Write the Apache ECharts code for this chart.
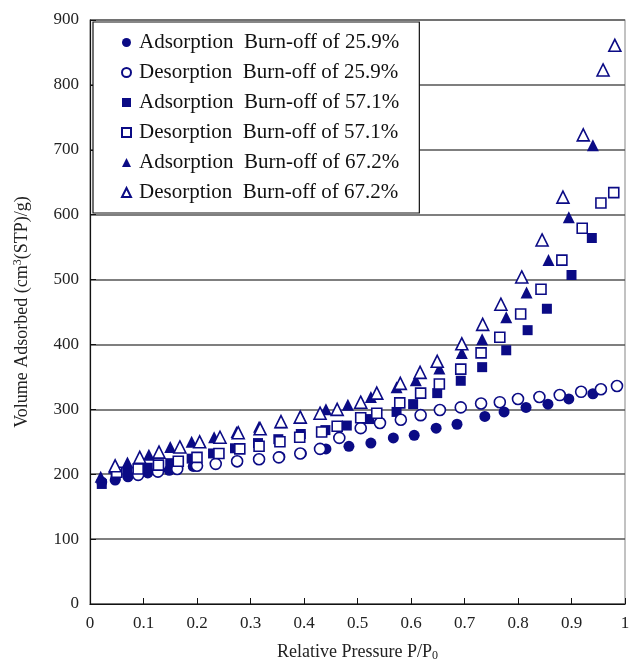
<!DOCTYPE html>
<html><head><meta charset="utf-8">
<script src="https://cdn.jsdelivr.net/npm/echarts@6/dist/echarts.min.js"></script>
<style>html,body{margin:0;padding:0;background:#fff}#c{width:631px;height:661px}</style>
</head><body><div id="c"></div>
<script>
// Adsorption / desorption, burn-off 25.9%
const ads259P = [0.022,0.047,0.071,0.108,0.148,0.193,0.235,0.275,0.316,0.355,0.395,0.441,0.484,0.525,0.567,0.606,0.647,0.686,0.738,0.774,0.815,0.856,0.895,0.94];
const ads259V = [188,191,196,202,206,212,216,219,223,227,232,239,243,248,256,260,271,277,289,296,303,308,316,324];
const des259P = [0.985,0.955,0.918,0.878,0.84,0.80,0.766,0.731,0.693,0.654,0.618,0.581,0.542,0.506,0.466,0.43,0.393,0.353,0.316,0.275,0.235,0.2,0.163,0.127,0.09];
const des259V = [336,331,327,322,319,316,311,309,303,299,291,284,279,271,256,239,232,226,223,220,216,213,208,204,199];
// burn-off 57.1%
const ads571P = [0.022,0.048,0.07,0.108,0.15,0.19,0.23,0.271,0.314,0.352,0.394,0.44,0.48,0.522,0.573,0.604,0.649,0.693,0.733,0.778,0.818,0.854,0.9,0.938];
const ads571V = [185,198,204,210,217,224,232,240,248,254,262,268,275,285,296,308,325,344,365,391,422,455,507,564];
const des571P = [0.979,0.955,0.92,0.882,0.843,0.805,0.766,0.731,0.693,0.653,0.618,0.579,0.536,0.506,0.462,0.433,0.392,0.355,0.316,0.28,0.241,0.2,0.165,0.128,0.09,0.05];
const des571V = [634,618,579,530,485,447,411,387,362,339,325,310,294,287,274,265,257,250,243,239,232,226,220,214,208,203];
// burn-off 67.2%
const ads672P = [0.02,0.045,0.07,0.11,0.15,0.19,0.232,0.274,0.316,0.356,0.394,0.441,0.482,0.525,0.573,0.609,0.653,0.695,0.733,0.778,0.816,0.857,0.895,0.94];
const ads672V = [196,210,218,230,242,250,257,265,273,280,288,300,307,319,334,345,363,387,408,442,480,530,596,707];
const des672P = [0.981,0.959,0.922,0.884,0.845,0.807,0.768,0.734,0.695,0.649,0.617,0.58,0.536,0.506,0.462,0.43,0.393,0.357,0.318,0.277,0.243,0.205,0.168,0.129,0.093,0.047];
const des672V = [861,823,723,627,561,504,462,431,401,374,357,340,325,311,300,294,288,281,270,264,257,250,242,234,226,213];

const seriesNames = [
  'Adsorption  Burn-off of 25.9%','Desorption  Burn-off of 25.9%',
  'Adsorption  Burn-off of 57.1%','Desorption  Burn-off of 57.1%',
  'Adsorption  Burn-off of 67.2%','Desorption  Burn-off of 67.2%'];
const xTicks = [0,0.1,0.2,0.3,0.4,0.5,0.6,0.7,0.8,0.9,1];
const yTicks = [0,100,200,300,400,500,600,700,800,900];

const NAVY = '#0b0b85';
const zip = (a,b) => a.map((v,i)=>[v,b[i]]);
const datasets = [
  zip(ads259P,ads259V), zip(des259P,des259V),
  zip(ads571P,ads571V), zip(des571P,des571V),
  zip(ads672P,ads672V), zip(des672P,des672V)];
const symbols = ['circle','circle','rect','rect','triangle','triangle'];
const sizes = [11,11,10,10,12,12];

const series = datasets.map((d,i)=>{
  const hollow = i%2===1;
  return {
    name: seriesNames[i], type:'scatter', data:d, symbol:symbols[i], symbolSize:sizes[i],
    z: hollow?3:2,
    itemStyle: hollow ? {color:'#ffffff', borderColor:NAVY, borderWidth:1.6, opacity:1}
                      : {color:NAVY, opacity:1}
  };
});

const chart = echarts.init(document.getElementById('c'), null, {renderer:'canvas'});
const FONT = '"Liberation Serif","Times New Roman",serif';
chart.setOption({
  animation:false,
  backgroundColor:'#fff',
  textStyle:{fontFamily:FONT},
  grid:{left:90,right:6,top:20,bottom:57,outerBoundsMode:'none',containLabel:false,show:true,borderColor:'#9a9a9a',borderWidth:1.2},
  legend:{
    orient:'vertical', left:93, top:22,
    backgroundColor:'#fff', borderColor:'#111', borderWidth:1.2,
    padding:[10,20,10,28], itemGap:9, itemWidth:9, itemHeight:9,
    textStyle:{fontFamily:FONT, fontSize:21, color:'#111', padding:[0,0,0,3]},
    data:seriesNames
  },
  xAxis:{
    type:'value', min:0, max:1, interval:0.1,
    axisLine:{show:true,lineStyle:{color:'#111',width:1.2}},
    axisTick:{show:true,inside:true,length:6,lineStyle:{color:'#111'}},
    splitLine:{show:false},
    axisLabel:{fontFamily:FONT,fontSize:17,color:'#222',margin:11,
      formatter:v=>{const t=xTicks.find(k=>Math.abs(k-v)<1e-6); return t===0?'0':(t===1?'1':(t!==undefined?t.toFixed(1):''));}},
    name:'{a|Relative Pressure P/P}{s|0}', nameLocation:'middle', nameGap:38,
    nameTextStyle:{rich:{a:{fontFamily:FONT,fontSize:18,color:'#222'},s:{fontFamily:FONT,fontSize:12,color:'#222',verticalAlign:'bottom',padding:[8,0,0,0]}}}
  },
  yAxis:{
    type:'value', min:0, max:900, interval:100,
    axisLine:{show:true,lineStyle:{color:'#111',width:1.2}},
    axisTick:{show:true,inside:true,length:6,lineStyle:{color:'#111'}},
    splitLine:{show:true,lineStyle:{color:'#555',width:1.5}},
    axisLabel:{fontFamily:FONT,fontSize:17,color:'#222',margin:11,
      formatter:v=>yTicks.includes(v)?String(v):''},
    name:'{a|Volume Adsorbed (cm}{s|3}{a|(STP)/g)}', nameLocation:'middle', nameGap:58,
    nameTextStyle:{rich:{a:{fontFamily:FONT,fontSize:18,color:'#222'},s:{fontFamily:FONT,fontSize:12,color:'#222',verticalAlign:'top',padding:[0,0,8,0]}}}
  },
  series: series
});
</script>
</body></html>
